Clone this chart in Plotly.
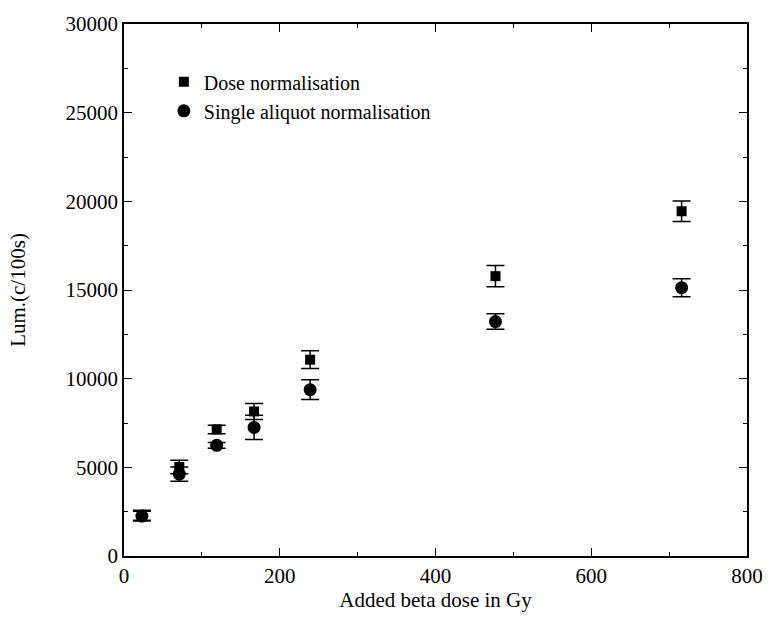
import plotly.graph_objects as go

# Added beta dose (Gy) for each regenerated point
dose = [23, 71, 119, 167, 239, 477, 716]

# Dose-normalised luminescence and its error
lum_dose = [2300, 5020, 7140, 8150, 11070, 15780, 19440]
err_dose = [280, 380, 240, 450, 500, 600, 580]

# Single-aliquot-normalised luminescence and its error
lum_single = [2250, 4620, 6240, 7250, 9380, 13220, 15130]
err_single = [280, 400, 160, 680, 560, 440, 510]

x_ticks = [0, 200, 400, 600, 800]
y_ticks = [0, 5000, 10000, 15000, 20000, 25000, 30000]

family = "Liberation Serif, Times New Roman, serif"
font = dict(family=family, size=21, color="black")

fig = go.Figure()
fig.add_trace(go.Scatter(
    x=dose, y=lum_dose, mode="markers", name="Dose normalisation",
    marker=dict(symbol="square", size=10, color="black"),
    error_y=dict(type="data", array=err_dose, color="black", thickness=1.5, width=9),
))
fig.add_trace(go.Scatter(
    x=dose, y=lum_single, mode="markers", name="Single aliquot normalisation",
    marker=dict(symbol="circle", size=13, color="black"),
    error_y=dict(type="data", array=err_single, color="black", thickness=1.5, width=9),
))

axis_common = dict(
    showgrid=False, zeroline=False, showline=True, linecolor="black", linewidth=1.5,
    mirror="ticks", ticks="inside", ticklen=8, tickwidth=1, tickcolor="black",
    tickfont=font, tickformat="d",
    minor=dict(ticks="inside", ticklen=4, tickcolor="black", tickwidth=1),
)

fig.update_xaxes(
    range=[0, 800], tickvals=x_ticks,
    title=dict(text="Added beta dose in Gy", font=font, standoff=4),
    **axis_common,
)
fig.update_xaxes(minor=dict(dtick=100))
fig.update_yaxes(
    range=[0, 30000], tickvals=y_ticks,
    title=dict(text="Lum.(c/100s)", font=font, standoff=34),
    **axis_common,
)
fig.update_yaxes(minor=dict(dtick=2500))

fig.update_layout(
    width=775, height=622,
    margin=dict(l=124, r=18, t=22, b=66),
    paper_bgcolor="white", plot_bgcolor="white",
    font=font,
    legend=dict(
        x=0.064, y=0.928, xanchor="left", yanchor="top",
        bgcolor="rgba(0,0,0,0)", font=dict(family=family, size=20, color="black"),
        itemwidth=30, tracegroupgap=0,
    ),
)

fig.write_html("out.html")
